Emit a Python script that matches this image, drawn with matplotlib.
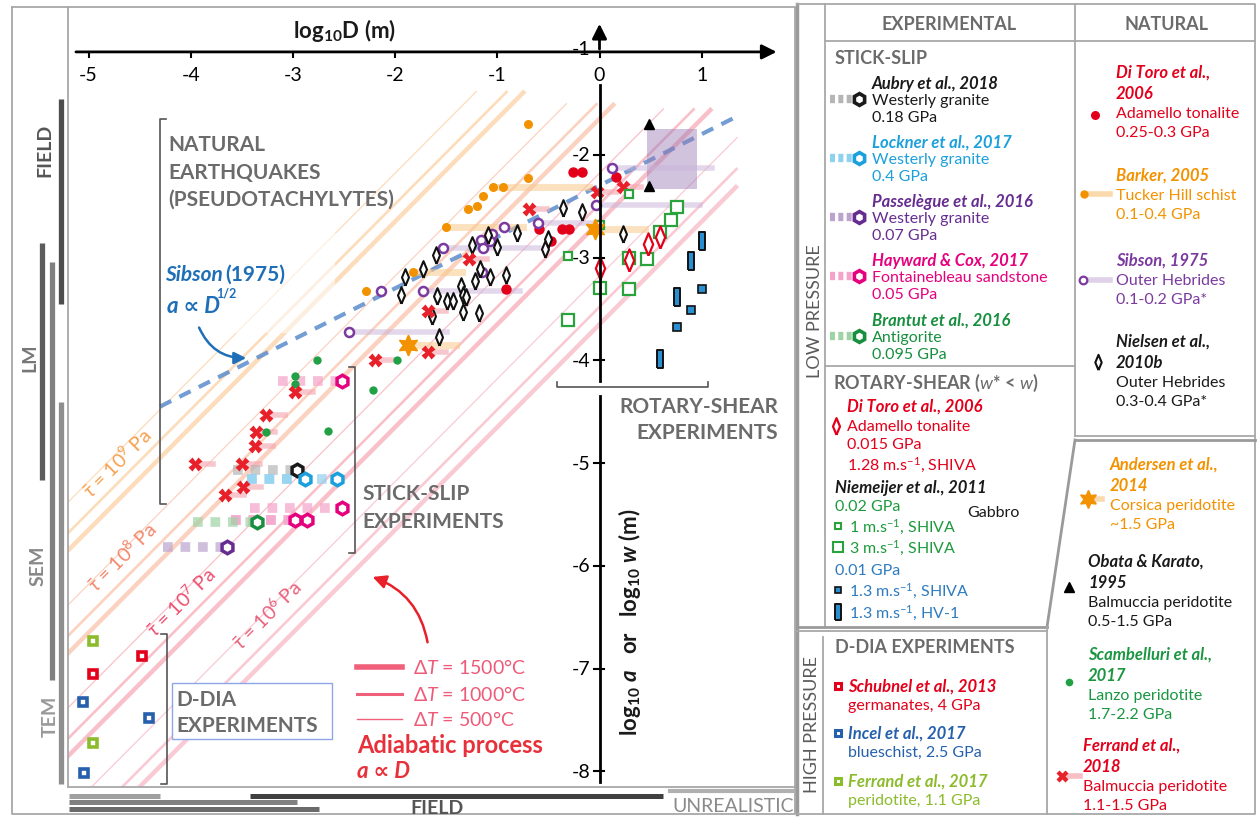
import numpy as np
import matplotlib
matplotlib.use('Agg')
import matplotlib.pyplot as plt
from matplotlib.patches import Rectangle, FancyArrowPatch

plt.rcParams['font.family'] = ['Lato', 'DejaVu Sans']
plt.rcParams['mathtext.fontset'] = 'custom'
plt.rcParams['mathtext.rm'] = 'Lato'
plt.rcParams['mathtext.it'] = 'Lato:italic'
plt.rcParams['mathtext.bf'] = 'Lato:bold'
plt.rcParams['mathtext.bfit'] = 'Lato:bold:italic'
plt.rcParams['mathtext.fallback'] = 'stixsans'

# ---------------- data (log10 D, log10 a) ----------------
barker_x = [-0.70, -0.70, -1.04, -0.94, -1.14, -1.20, -1.29, -1.50, -1.82, -2.28]
barker_y = [-1.70, -2.23, -2.31, -2.31, -2.40, -2.50, -2.53, -2.70, -3.14, -3.33]
barker_trails = [(-1.04, -0.10, -2.31), (-1.50, -0.75, -2.70), (-1.82, -1.35, -3.14)]

ditoro_x = [-0.26, -0.17, 0.16, -0.59, -0.37, -0.30, -0.47, -0.91]
ditoro_y = [-2.17, -2.17, -2.22, -2.72, -2.72, -2.72, -2.84, -3.31]

ferrand18_x = [-0.69, -1.28, -1.68, -1.68, -2.20, -0.02, 0.23, -2.98, -3.26, -3.36,
               -3.37, -3.96, -3.50, -3.49, -3.66]
ferrand18_y = [-2.53, -3.01, -3.52, -3.92, -4.00, -2.36, -2.31, -4.31, -4.53, -4.70,
               -4.83, -5.01, -5.01, -5.23, -5.31]

scamb_x = [-2.76, -2.98, -2.98, -2.22, -2.66, -3.26, -1.98]
scamb_y = [-4.00, -4.15, -4.23, -4.29, -4.69, -4.70, -4.00]

sibson_x = [-2.45, -2.14, -1.73, -1.53, -1.16, -1.05, -1.14, -1.07, -0.93, -1.15, -0.60, 0.12, -0.03]
sibson_y = [-3.72, -3.33, -3.33, -2.91, -2.83, -2.77, -2.91, -2.84, -2.70, -3.14, -2.66, -2.13, -2.49]
sibson_trails = [(-2.45, -1.49, -3.72), (0.12, 1.10, -2.13), (-0.03, 0.98, -2.49),
                 (-1.73, -0.78, -3.33), (-0.60, 0.00, -2.66), (-1.53, -0.58, -2.91)]

nielsen_x = [-0.36, -0.17, 0.23, -0.81, -1.25, -1.00, -1.09, -1.60, -1.73, -1.90, -1.94,
             -1.59, -1.49, -1.43, -1.36, -1.34, -1.31, -1.34, -1.18, -1.22, -1.07, -0.91,
             -0.53, -0.50, -1.64, -1.57, -1.17]
nielsen_y = [-2.52, -2.56, -2.77, -2.76, -2.88, -2.90, -2.78, -2.98, -3.11, -3.19, -3.36,
             -3.37, -3.42, -3.42, -3.28, -3.36, -3.38, -3.53, -3.54, -3.23, -3.19, -3.17,
             -2.92, -2.82, -3.57, -3.77, -3.11]

andersen_x = [-1.87, -0.04]
andersen_y = [-3.85, -2.72]
andersen_trails = [(-1.87, -1.40, -3.85), (-0.04, 0.45, -2.72)]

obata_x = [0.48, 0.48]
obata_y = [-1.70, -2.30]
obata_box = (0.46, 0.95, -2.33, -1.75)

# rotary shear (log10 D, log10 w)
ditoro_rs_x = [0.00, 0.29, 0.47, 0.59]
ditoro_rs_y = [-3.10, -3.02, -2.87, -2.80]
niem1_x = [0.29, 0.00, -0.31]
niem1_y = [-2.38, -2.68, -2.99]
niem3_x = [0.76, 0.70, 0.59, 0.29, 0.46, 0.00, 0.29, -0.31]
niem3_y = [-2.51, -2.64, -2.75, -3.00, -3.01, -3.30, -3.31, -3.61]
shiva_x = [1.00, 0.90, 0.76]
shiva_y = [-3.31, -3.51, -3.68]
hv1_x = [1.00, 0.90, 0.76, 0.59]
hv1_y = [-2.84, -3.03, -3.38, -3.99]

# stick-slip: marker positions and left end of the trail
aubry = dict(x=[-2.96], y=[-5.07], x0=[-3.59])
lockner = dict(x=[-2.88, -2.57], y=[-5.15, -5.15], x0=[-3.45, -3.45])
passel = dict(x=[-3.64], y=[-5.82], x0=[-4.27])
hayward = dict(x=[-2.52, -2.52, -2.98, -2.86], y=[-4.20, -5.44, -5.55, -5.55],
               x0=[-3.15, -3.42, -3.61, -3.61])
brantut = dict(x=[-3.35], y=[-5.57], x0=[-3.98])

# D-DIA
ferrand17_x = [-4.96, -4.96]
ferrand17_y = [-6.73, -7.72]
schubnel_x = [-4.48, -4.96]
schubnel_y = [-6.88, -7.05]
incel_x = [-5.05, -4.41, -5.04]
incel_y = [-7.32, -7.48, -8.01]

# adiabatic lines: intercept of log a = log D + c for dT = 1500, 1000, 500 C
tau_exp = [9, 8, 7, 6]
tau_intercepts = [[-0.65, -0.48, -0.18], [-1.65, -1.48, -1.18],
                  [-2.65, -2.48, -2.18], [-3.65, -3.48, -3.18]]
tau_top = [-1.38, -1.50, -1.55, -1.55]
tau_colors = ['#f9ad5c', '#f7956a', '#f16a80', '#f3819a']
dT_widths = [3.2, 1.9, 0.9]

sibson_line_x = [-4.30, 1.38]
sibson_line_y = [-4.45, -1.61]

x_ticks = [-5, -4, -3, -2, -1, 0, 1]
y_ticks = [-2, -3, -4, -5, -6, -7, -8]

# observation ranges along the margins
left_ranges = [(-1.46, -3.45, -0.0096, '#4d4d4d'), (-2.86, -5.16, -0.0358, '#5c5c5c'),
               (-3.04, -7.11, -0.0220, '#808080'), (-4.41, -8.12, -0.0096, '#8e8e8e')]
bottom_ranges = [(-5.19, -4.30, -0.0115, '#a0a0a0'), (-3.42, 0.62, -0.0115, '#404040'),
                 (-5.19, -2.96, -0.0195, '#808080'), (-5.19, -2.74, -0.0285, '#6a6a6a')]

# ---------------- figure ----------------
fig = plt.figure(figsize=(12.59, 8.20), dpi=100)
fig.patch.set_facecolor('white')
ax = fig.add_axes([68/1259, 1-788/820, 727/1259, 780/820])
ax.set_xlim(-5.2006, 1.9129)
ax.set_ylim(-8.1508, -0.5632)
ax.set_axis_off()

# adiabatic lines
for c_list, top, col in zip(tau_intercepts, tau_top, tau_colors):
    for c, lw in zip(c_list, dT_widths):
        xe = min(1.35, top - c)
        ax.plot([-5.3, xe], [-5.3 + c, xe + c], color=col, lw=lw, alpha=0.42,
                solid_capstyle='butt', zorder=1)

ax.add_patch(Rectangle((-4.30, -3.73), 1.71, 2.08, facecolor='white', edgecolor='none',
                       alpha=0.55, zorder=1.5))

ax.plot(sibson_line_x, sibson_line_y, color='#5b8ccc', lw=3, ls=(0, (3, 2.2)),
        alpha=0.85, zorder=2)

# trails
for x0, x1, y in barker_trails:
    ax.plot([x0, x1], [y, y], color='#f9c98a', lw=5, alpha=0.55, zorder=2.3)
for x0, x1, y in andersen_trails:
    ax.plot([x0, x1], [y, y], color='#f9c98a', lw=5, alpha=0.55, zorder=2.3)
for x0, x1, y in sibson_trails:
    ax.plot([x0, x1], [y, y], color='#c9b3d9', lw=4, alpha=0.5, zorder=2.3)
for x, y in zip(ferrand18_x, ferrand18_y):
    ax.plot([x, x + 0.18], [y, y], color='#f4a3ac', lw=4, alpha=0.6, zorder=2.3)

ss_sets = [(aubry, '#1a1a1a', '#b5b5b5'), (lockner, '#1ba0dc', '#8fd2f0'),
           (passel, '#662d91', '#bca3cf'), (hayward, '#e5007d', '#f5a3cb'),
           (brantut, '#178f3e', '#9fd3a6')]
for d, col, light in ss_sets:
    for x, y, x0 in zip(d['x'], d['y'], d['x0']):
        ax.plot([x0, x], [y, y], color=light, lw=7, ls=(0, (1, 0.8)), alpha=0.7,
                solid_capstyle='butt', zorder=2.4)
for d, col, light in ss_sets:
    ax.plot(d['x'], d['y'], ls='none', marker='h', ms=9, mfc='white', mec=col, mew=2.5, zorder=4)

# narrow diamond used for the Nielsen and Di Toro (rotary) points
narrow_d = [(0, -1), (0.42, 0), (0, 1), (-0.42, 0), (0, -1)]

# natural data
ax.plot(barker_x, barker_y, 'o', ms=6.5, color='#f39200', mec='none', zorder=3)
ax.plot(scamb_x, scamb_y, 'o', ms=6, color='#22a046', mec='none', zorder=3)
ax.plot(ditoro_x, ditoro_y, 'o', ms=7.5, color='#e3001b', mec='none', zorder=3)
ax.plot(sibson_x, sibson_y, 'o', ms=6.5, mfc='white', mec='#7b3aa0', mew=1.8, zorder=3.2)
ax.plot(nielsen_x, nielsen_y, marker=narrow_d, ls='none', ms=12, mfc='white', mec='#111111',
        mew=1.5, zorder=3.3)
ax.plot(ferrand18_x, ferrand18_y, 'X', ms=9.5, color='#e8202a', mec='none', zorder=3.4)
ax.plot(andersen_x, andersen_y, marker=(6, 1, 0), ls='none', ms=15, color='#f39200', zorder=3.5)
ax.plot(obata_x, obata_y, '^', ms=7.5, color='black', zorder=3.5)
bx0, bx1, by0, by1 = obata_box
ax.add_patch(Rectangle((bx0, by0), bx1 - bx0, by1 - by0, facecolor='#9b7bb5', alpha=0.45,
                       edgecolor='none', zorder=2.2))

# rotary shear
ax.plot(niem3_x, niem3_y, 's', ms=9, mfc='white', mec='#2aa33c', mew=1.6, zorder=3.4)
ax.plot(niem1_x, niem1_y, 's', ms=6, mfc='white', mec='#2aa33c', mew=1.6, zorder=3.4)
ax.plot(ditoro_rs_x, ditoro_rs_y, marker=narrow_d, ls='none', ms=16, mfc='white', mec='#e3001b',
        mew=1.6, zorder=3.5)
ax.plot(shiva_x, shiva_y, 's', ms=5.5, mfc='#2a8fd0', mec='#111111', mew=1.2, zorder=3.5)
tall = [(-0.35, -1), (0.35, -1), (0.35, 1), (-0.35, 1), (-0.35, -1)]
ax.plot(hv1_x, hv1_y, marker=tall, ls='none', ms=13, mfc='#2a8fd0', mec='#111111', mew=1.4, zorder=3.5)

# D-DIA
ax.plot(ferrand17_x, ferrand17_y, 's', ms=5.5, mfc='white', mec='#8cbb2c', mew=2.6, zorder=3)
ax.plot(schubnel_x, schubnel_y, 's', ms=5.5, mfc='white', mec='#e3001b', mew=2.6, zorder=3)
ax.plot(incel_x, incel_y, 's', ms=5.5, mfc='white', mec='#2660ad', mew=2.6, zorder=3)

# brackets
bk = dict(color='#555555', lw=1.2, zorder=2.5, clip_on=False)
ax.plot([-4.24, -4.30, -4.30, -4.24], [-1.65, -1.65, -5.40, -5.40], **bk)
ax.plot([-2.45, -2.39, -2.39, -2.45], [-4.07, -4.07, -5.87, -5.87], **bk)
ax.plot([-4.29, -4.23, -4.23, -4.29], [-6.66, -6.66, -8.12, -8.12], **bk)
ax.plot([-0.42, -0.42, 1.06, 1.06], [-4.21, -4.26, -4.26, -4.21], **bk)

# axes through the origin
ax.annotate('', xy=(1.76, -1), xytext=(-5.15, -1),
            arrowprops=dict(arrowstyle='-|>', lw=2, color='black', mutation_scale=22),
            zorder=5)
ax.annotate('', xy=(0, -0.70), xytext=(0, -1.0),
            arrowprops=dict(arrowstyle='-|>', lw=2, color='black', mutation_scale=22),
            zorder=5)
ax.plot([0, 0], [-1.32, -4.20], color='black', lw=2, zorder=5)
ax.plot([0, 0], [-4.35, -8.10], color='black', lw=2, zorder=5)
for tk in x_ticks:
    ax.plot([tk, tk], [-1, -1.045], color='black', lw=1.5, zorder=5)
    ax.text(tk, -1.22, str(tk), ha='center', va='center', fontsize=14, zorder=5)
for tk in y_ticks:
    ax.plot([-0.05, 0.04], [tk, tk], color='black', lw=1.5, zorder=5)
    ax.text(-0.09, tk, str(tk), ha='right', va='center', fontsize=14, zorder=5)
ax.text(-0.09, -0.97, '-1', ha='right', va='center', fontsize=14, zorder=5)

for y0, y1, xf, col in left_ranges:
    ax.plot([xf, xf], [y0, y1], color=col, lw=3.8, solid_capstyle='butt',
            transform=ax.get_yaxis_transform(), clip_on=False)
for x0, x1, yf, col in bottom_ranges:
    ax.plot([x0, x1], [yf, yf], color=col, lw=3.6, solid_capstyle='butt',
            transform=ax.get_xaxis_transform(), clip_on=False)

# ---------------- overlay in pixel coordinates ----------------
ov = fig.add_axes([0, 0, 1, 1], zorder=5)
ov.set_xlim(0, 1259)
ov.set_ylim(820, 0)
ov.set_axis_off()
ov.patch.set_visible(False)

fr = dict(color='#a8a8a8', lw=1.3)
ov.plot([12, 795, 795, 12, 12], [8, 8, 815, 815, 8], **fr)
ov.plot([68, 68], [8, 788], **fr)
ov.plot([68, 795], [788, 788], **fr)
ov.plot([670, 795], [792, 792], color='#b0b0b0', lw=3)
ov.plot([797, 797], [5, 815], color='#9a9a9a', lw=2.5)
ov.plot([797, 1255, 1255, 797], [5, 5, 815, 815], **fr)
ov.plot([825, 825], [5, 628], **fr)
ov.plot([825, 1255], [42, 42], **fr)
ov.plot([1075, 1075], [5, 437], **fr)
ov.plot([825, 1075], [367, 367], **fr)
ov.plot([1075, 1255], [437, 437], **fr)
ov.plot([1075, 1255], [441, 441], color='#9a9a9a', lw=2)
ov.plot([1075, 1047], [441, 628], color='#9a9a9a', lw=2)
ov.plot([797, 1047], [628, 628], color='#9a9a9a', lw=2)
ov.plot([797, 1047], [632, 632], **fr)
ov.plot([823, 823], [638, 815], **fr)
ov.plot([1047, 1047], [628, 815], **fr)

def t(x, y, s, color='#1a1a1a', size=11.5, weight='normal', style='normal', ha='left', **kw):
    ov.text(x, y, s, color=color, fontsize=size, fontweight=weight, fontstyle=style,
            ha=ha, va='center', **kw)

gray = '#6b6b6b'
# main plot annotations
t(345, 30, r'log$_{\mathbf{10}}$D (m)', size=16, weight='bold', ha='center')
t(630, 622, r'log$_{\mathbf{10}}$ $\mathbfit{a}$   or   log$_{\mathbf{10}}$ $\mathbfit{w}$ (m)',
  size=16, weight='bold', ha='center', rotation=90)
for i, s in enumerate(['NATURAL', 'EARTHQUAKES', '(PSEUDOTACHYLYTES)']):
    t(168, 145 + 27.5 * i, s, color=gray, size=15, weight='bold')
t(362, 494, 'STICK-SLIP', color=gray, size=15, weight='bold')
t(362, 522, 'EXPERIMENTS', color=gray, size=15, weight='bold')
t(778, 407, 'ROTARY-SHEAR', color=gray, size=15, weight='bold', ha='right')
t(778, 433, 'EXPERIMENTS', color=gray, size=15, weight='bold', ha='right')
ov.add_patch(Rectangle((172, 684), 160, 56, facecolor='white', edgecolor='#8ea6e6', lw=1))
t(176, 700, 'D-DIA', color=gray, size=15, weight='bold')
t(176, 726, 'EXPERIMENTS', color=gray, size=15, weight='bold')

t(165, 275, 'Sibson', color='#1f6fb8', size=15, weight='bold', style='italic')
t(225, 275, '(1975)', color='#1f6fb8', size=15, weight='bold')
t(167, 307, 'a \u221d D', color='#1f6fb8', size=16, weight='bold', style='italic')
t(216, 294, '1/2', color='#1f6fb8', size=9, weight='bold')
ov.add_patch(FancyArrowPatch((198, 326), (249, 359), connectionstyle='arc3,rad=0.35',
                             arrowstyle='-|>', mutation_scale=18, color='#1f6fb8', lw=1.8))

tau_pos = [(117, 463), (122, 557), (181, 602), (267, 615)]
tau_text_cols = ['#f6a04d', '#f2876b', '#ee4d6e', '#e8607a']
for (x, y), e, col in zip(tau_pos, tau_exp, tau_text_cols):
    t(x, y, r'$\bar{\tau}$ = 10$^{%d}$ Pa' % e, color=col, size=14, ha='center',
      rotation=45, rotation_mode='anchor')

ov.add_patch(FancyArrowPatch((428, 646), (370, 577), connectionstyle='arc3,rad=0.3',
                             arrowstyle='-|>', mutation_scale=20, color='#e8202a', lw=1.8))
for yy, lw, lab in zip([668, 695, 720], [4.0, 2.2, 1.0], ['1500', '1000', '500']):
    ov.plot([357, 402], [yy, yy], color='#f0607a', lw=lw)
    t(413, yy, r'$\Delta\mathit{T}$ = ' + lab + '\u00b0C', color='#ee5a78', size=14)
t(357, 746, 'Adiabatic process', color='#e8303a', size=17, weight='bold')
t(357, 772, 'a \u221d D', color='#e8303a', size=16, weight='bold', style='italic')

# margin labels
t(45, 150, 'FIELD', color='#555555', size=14, weight='bold', ha='center', rotation=90)
t(30, 358, 'LM', color='#777777', size=14, weight='bold', ha='center', rotation=90)
t(38, 566, 'SEM', color='#888888', size=14, weight='bold', ha='center', rotation=90)
t(50, 716, 'TEM', color='#999999', size=14, weight='bold', ha='center', rotation=90)
t(437, 809, 'FIELD', color='#555555', size=14, weight='bold', ha='center')
t(733, 807, 'UNREALISTIC', color='#8a8a8a', size=14, ha='center')

# ---------------- legend panel ----------------
t(949, 25, 'EXPERIMENTAL', color=gray, size=13, weight='bold', ha='center')
t(1167, 25, 'NATURAL', color=gray, size=13, weight='bold', ha='center')
t(835, 58, 'STICK-SLIP', color=gray, size=13, weight='bold')
t(815, 311, 'LOW PRESSURE', color='#5a5a5a', size=13, ha='center', rotation=90)
t(812, 725, 'HIGH PRESSURE', color='#5a5a5a', size=13, ha='center', rotation=90)

ss_leg = [('Aubry et al., 2018', 'Westerly granite', '0.18 GPa', '#1a1a1a', '#b5b5b5', 84),
          ('Lockner et al., 2017', 'Westerly granite', '0.4 GPa', '#1ba0dc', '#8fd2f0', 143),
          ('Passel\u00e8gue et al., 2016', 'Westerly granite', '0.07 GPa', '#662d91', '#bca3cf', 202),
          ('Hayward & Cox, 2017', 'Fontainebleau sandstone', '0.05 GPa', '#e5007d', '#f5a3cb', 261),
          ('Brantut et al., 2016', 'Antigorite', '0.095 GPa', '#178f3e', '#9fd3a6', 321)]
for title, sub, pr, col, light, y in ss_leg:
    t(872, y, title, color=col, size=12, weight='bold', style='italic')
    t(872, y + 17, sub, color=col)
    t(872, y + 34, pr, color=col)
    ov.plot([830, 853], [y + 16, y + 16], color=light, lw=6, ls=(0, (0.6, 0.4)),
            solid_capstyle='butt')
    ov.plot([859], [y + 16], marker='h', ms=8.5, mfc='white', mec=col, mew=2.6)

t(833, 383, r'ROTARY-SHEAR ($\mathit{w}$* < $\mathit{w}$)', color=gray, size=13, weight='bold')
t(847, 407, 'Di Toro et al., 2006', color='#e3001b', size=12, weight='bold', style='italic')
t(847, 427, 'Adamello tonalite', color='#e3001b')
t(847, 445, '0.015 GPa', color='#e3001b')
t(847, 465, r'1.28 m.s$^{-1}$, SHIVA', color='#e3001b')
ov.plot([836], [427], marker=narrow_d, ms=12, mfc='white', mec='#e3001b', mew=1.6)
t(835, 488, 'Niemeijer et al., 2011', color='#1a1a1a', size=12, weight='bold', style='italic')
t(835, 507, '0.02 GPa', color='#1d9a3c')
t(967, 513, 'Gabbro', color='#1a1a1a')
t(849, 527, r'1 m.s$^{-1}$, SHIVA', color='#1d9a3c')
ov.plot([838], [527], 's', ms=5, mfc='white', mec='#2aa33c', mew=1.5)
t(849, 548, r'3 m.s$^{-1}$, SHIVA', color='#1d9a3c')
ov.plot([838], [548], 's', ms=7.5, mfc='white', mec='#2aa33c', mew=1.5)
t(835, 571, '0.01 GPa', color='#2e7bc0')
t(849, 591, r'1.3 m.s$^{-1}$, SHIVA', color='#2e7bc0')
ov.plot([838], [591], 's', ms=5, mfc='#2a8fd0', mec='#111111', mew=1.2)
t(849, 613, r'1.3 m.s$^{-1}$, HV-1', color='#2e7bc0')
ov.plot([838], [613], marker=tall, ms=11, mfc='#2a8fd0', mec='#111111', mew=1.4)

t(835, 648, 'D-DIA EXPERIMENTS', color=gray, size=13, weight='bold')
ddia_leg = [('Schubnel et al., 2013', 'germanates, 4 GPa', '#e3001b', 687),
            ('Incel et al., 2017', 'blueschist, 2.5 GPa', '#2660ad', 734),
            ('Ferrand et al., 2017', 'peridotite, 1.1 GPa', '#8cbb2c', 782)]
for title, sub, col, y in ddia_leg:
    t(848, y, title, color=col, size=12, weight='bold', style='italic')
    t(848, y + 19, sub, color=col)
    ov.plot([838], [y], 's', ms=5, mfc='white', mec=col, mew=2.2)

# natural column
nat_top = [(['Di Toro et al.,', '2006'], ['Adamello tonalite', '0.25-0.3 GPa'], '#e3001b', 73),
           (['Barker, 2005'], ['Tucker Hill schist', '0.1-0.4 GPa'], '#f39200', 176),
           (['Sibson, 1975'], ['Outer Hebrides', '0.1-0.2 GPa*'], '#7b3aa0', 261),
           (['Nielsen et al.,', '2010b'], ['Outer Hebrides', '0.3-0.4 GPa*'], '#1a1a1a', 342)]
for titles, subs, col, y in nat_top:
    yy = y
    for s in titles:
        t(1116, yy, s, color=col, size=12, weight='bold', style='italic')
        yy += 21
    yy -= 1
    for s in subs:
        t(1116, yy, s, color=col)
        yy += 19
ov.plot([1095], [116], 'o', ms=6.5, color='#e3001b', mec='none')
ov.plot([1084, 1110], [195, 195], color='#f9c98a', lw=4, alpha=0.7)
ov.plot([1084], [195], 'o', ms=6, color='#f39200', mec='none')
ov.plot([1083, 1110], [281, 281], color='#c9b3d9', lw=4, alpha=0.6)
ov.plot([1083], [281], 'o', ms=5.5, mfc='white', mec='#7b3aa0', mew=1.6)
ov.plot([1098], [363], marker=narrow_d, ms=11, mfc='white', mec='#111111', mew=1.5)

nat_low = [(['Andersen et al.,', '2014'], ['Corsica peridotite', '~1.5 GPa'], '#f39200', 1110, 465),
           (['Obata & Karato,', '1995'], ['Balmuccia peridotite', '0.5-1.5 GPa'], '#1a1a1a', 1088, 562),
           (['Scambelluri et al.,', '2017'], ['Lanzo peridotite', '1.7-2.2 GPa'], '#1a9641', 1088, 655),
           (['Ferrand et al.,', '2018'], ['Balmuccia peridotite', '1.1-1.5 GPa'], '#e3001b', 1083, 746)]
for titles, subs, col, x, y in nat_low:
    yy = y
    for s in titles:
        t(x, yy, s, color=col, size=12, weight='bold', style='italic')
        yy += 21
    yy -= 1
    for s in subs:
        t(x, yy, s, color=col)
        yy += 19
ov.plot([1088, 1102], [500, 500], color='#f9c98a', lw=4, alpha=0.7)
ov.plot([1088], [500], marker=(6, 1, 0), ms=13, color='#f39200')
ov.plot([1069], [588], '^', ms=7, color='black')
ov.plot([1069], [683], 'o', ms=5.5, color='#22a046', mec='none')
ov.plot([1062, 1080], [777, 777], color='#f4a3ac', lw=4, alpha=0.7)
ov.plot([1062], [777], 'X', ms=9, color='#e8202a', mec='none')

fig.savefig('out.png', dpi=100, facecolor='white')
